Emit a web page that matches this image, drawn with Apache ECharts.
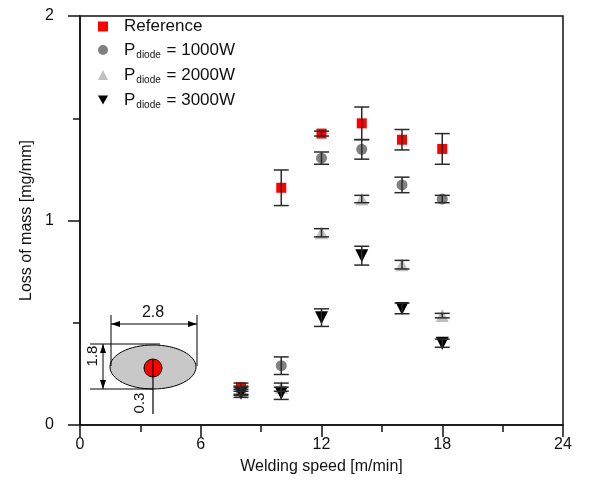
<!DOCTYPE html>
<html><head><meta charset="utf-8">
<script src="https://cdn.jsdelivr.net/npm/echarts@6/dist/echarts.min.js"></script>
<style>html,body{margin:0;padding:0;background:#fff}#c{width:590px;height:495px}</style>
</head><body><div id="c"></div>
<script>
const speeds = [8, 10, 12, 14, 16, 18];
const refVals = [0.185, 1.16, 1.425, 1.475, 1.395, 1.35];
const refErr = [0.02, 0.087, 0.012, 0.08, 0.05, 0.075];
const p1000 = [0.17, 0.29, 1.305, 1.348, 1.174, 1.105];
const p1000Err = [0.02, 0.043, 0.03, 0.048, 0.038, 0.018];
const p2000 = [0.165, 0.185, 0.94, 1.105, 0.784, 0.535];
const p2000Err = [0.02, 0.02, 0.02, 0.018, 0.021, 0.011];
const p3000 = [0.155, 0.155, 0.525, 0.828, 0.57, 0.40];
const p3000Err = [0.02, 0.03, 0.043, 0.046, 0.026, 0.02];
const seriesNames = ['Reference', 'P_1000', 'P_2000', 'P_3000'];
const legendLabels = {
  'Reference': '{a|Reference}',
  'P_1000': '{a|P}{s|diode}{a| = 1000W}',
  'P_2000': '{a|P}{s|diode}{a| = 2000W}',
  'P_3000': '{a|P}{s|diode}{a| = 3000W}'
};
const FONT = 'Liberation Sans, Arial, sans-serif';

function pts(vals) { return speeds.map((x, i) => [x, vals[i]]); }
function errData(vals, errs) { return speeds.map((x, i) => [x, vals[i] - errs[i], vals[i] + errs[i]]); }

function errSeries(vals, errs) {
  return {
    type: 'custom', z: 5, silent: true,
    data: errData(vals, errs),
    renderItem: function (params, api) {
      const x = api.value(0);
      const lo = api.coord([x, api.value(1)]);
      const hi = api.coord([x, api.value(2)]);
      const hw = 7.5;
      const st = { stroke: '#2a2a2a', lineWidth: 1.5 };
      return { type: 'group', children: [
        { type: 'line', shape: { x1: lo[0], y1: lo[1], x2: hi[0], y2: hi[1] }, style: st },
        { type: 'line', shape: { x1: lo[0] - hw, y1: lo[1], x2: lo[0] + hw, y2: lo[1] }, style: st },
        { type: 'line', shape: { x1: hi[0] - hw, y1: hi[1], x2: hi[0] + hw, y2: hi[1] }, style: st }
      ]};
    }
  };
}

const chart = echarts.init(document.getElementById('c'), null, { renderer: 'canvas' });

function arrowH(x, y, dir) {
  return { type: 'polygon', shape: { points: [[x, y], [x - dir * 9, y - 3], [x - dir * 9, y + 3]] }, style: { fill: '#000' } };
}
function arrowV(x, y, dir) {
  return { type: 'polygon', shape: { points: [[x, y], [x - 3, y - dir * 9], [x + 3, y - dir * 9]] }, style: { fill: '#000' } };
}
const ln = { stroke: '#000', lineWidth: 1 };

const option = {
  backgroundColor: '#fff',
  animation: false,
  grid: { left: 80, right: 27, top: 16, bottom: 70, show: true, borderColor: '#111', borderWidth: 1.5, backgroundColor: 'transparent' },
  xAxis: {
    type: 'value', min: 0, max: 24, interval: 6,
    name: 'Welding speed [m/min]', nameLocation: 'middle', nameGap: 34,
    nameTextStyle: { fontFamily: FONT, fontSize: 16, color: '#111' },
    axisLine: { show: true, onZero: false, lineStyle: { color: '#111', width: 1.5 } },
    axisTick: { show: true, inside: false, length: 12, lineStyle: { color: '#111', width: 1.5 } },
    minorTick: { show: true, splitNumber: 2, length: 7, lineStyle: { color: '#111', width: 1.5 } },
    splitLine: { show: false },
    axisLabel: { fontFamily: FONT, fontSize: 16, color: '#111', margin: 12 }
  },
  yAxis: {
    type: 'value', min: 0, max: 2, interval: 1,
    name: 'Loss of mass [mg/mm]', nameLocation: 'middle', nameGap: 45,
    nameTextStyle: { fontFamily: FONT, fontSize: 16, color: '#111' },
    axisLine: { show: true, onZero: false, lineStyle: { color: '#111', width: 1.5 } },
    axisTick: { show: true, inside: false, length: 12, lineStyle: { color: '#111', width: 1.5 } },
    minorTick: { show: true, splitNumber: 2, length: 7, lineStyle: { color: '#111', width: 1.5 } },
    splitLine: { show: false },
    axisLabel: { fontFamily: FONT, fontSize: 16, color: '#111', margin: 26 }
  },
  legend: {
    orient: 'vertical', left: 93, top: 13, itemGap: 6,
    itemWidth: 10, itemHeight: 10,
    data: [
      { name: 'Reference', icon: 'rect' },
      { name: 'P_1000', icon: 'circle' },
      { name: 'P_2000', icon: 'triangle' },
      { name: 'P_3000', icon: 'path://M0,0 L10,0 L5,9 Z' }
    ],
    formatter: function (name) { return legendLabels[name]; },
    textStyle: {
      fontFamily: FONT, color: '#111', padding: [0, 0, 0, 11],
      rich: {
        a: { fontFamily: FONT, fontSize: 17, color: '#111', lineHeight: 20, verticalAlign: 'middle' },
        s: { fontFamily: FONT, fontSize: 10, color: '#111', lineHeight: 20, verticalAlign: 'bottom', padding: [9, 1, 0, 1] }
      }
    }
  },
  series: [
    { name: 'Reference', type: 'scatter', z: 3, symbol: 'rect', symbolSize: 10, itemStyle: { color: '#ff0000', opacity: 1 }, data: pts(refVals) },
    { name: 'P_1000', type: 'scatter', z: 3, symbol: 'circle', symbolSize: 11, itemStyle: { color: '#808080', opacity: 1 }, data: pts(p1000) },
    { name: 'P_2000', type: 'scatter', z: 3, symbol: 'triangle', symbolSize: 13, itemStyle: { color: '#c0c0c0', opacity: 1 }, data: pts(p2000) },
    { name: 'P_3000', type: 'scatter', z: 3, symbol: 'triangle', symbolRotate: 180, symbolSize: 13, itemStyle: { color: '#000', opacity: 1 }, data: pts(p3000) },
    errSeries(refVals, refErr),
    errSeries(p1000, p1000Err),
    errSeries(p2000, p2000Err),
    errSeries(p3000, p3000Err)
  ],
  graphic: [
    { type: 'group', z: 20, children: [
      { type: 'ellipse', shape: { cx: 153, cy: 367, rx: 43, ry: 22 }, style: { fill: '#c8c8c8', stroke: '#000', lineWidth: 1 } },
      { type: 'circle', shape: { cx: 153, cy: 368, r: 9 }, style: { fill: '#ff0000', stroke: '#000', lineWidth: 1 } },
      { type: 'line', shape: { x1: 153, y1: 360, x2: 153, y2: 414 }, style: { stroke: '#000', lineWidth: 1.2 } },
      { type: 'text', x: 140, y: 403, rotation: Math.PI / 2, style: { text: '0.3', font: '15px ' + FONT, fill: '#111', align: 'center', verticalAlign: 'middle' } },
      { type: 'line', shape: { x1: 111, y1: 315, x2: 111, y2: 366 }, style: ln },
      { type: 'line', shape: { x1: 197, y1: 315, x2: 197, y2: 366 }, style: ln },
      { type: 'line', shape: { x1: 111, y1: 324, x2: 197, y2: 324 }, style: ln },
      arrowH(111, 324, -1), arrowH(197, 324, 1),
      { type: 'text', x: 153, y: 313, style: { text: '2.8', font: '16px ' + FONT, fill: '#111', align: 'center', verticalAlign: 'middle' } },
      { type: 'line', shape: { x1: 90, y1: 344, x2: 160, y2: 344 }, style: ln },
      { type: 'line', shape: { x1: 90, y1: 389, x2: 153, y2: 389 }, style: ln },
      { type: 'line', shape: { x1: 103, y1: 344, x2: 103, y2: 389 }, style: ln },
      arrowV(103, 344, -1), arrowV(103, 389, 1),
      { type: 'text', x: 93, y: 356, rotation: Math.PI / 2, style: { text: '1.8', font: '15px ' + FONT, fill: '#111', align: 'center', verticalAlign: 'middle' } }
    ]}
  ]
};
chart.setOption(option);
</script></body></html>
